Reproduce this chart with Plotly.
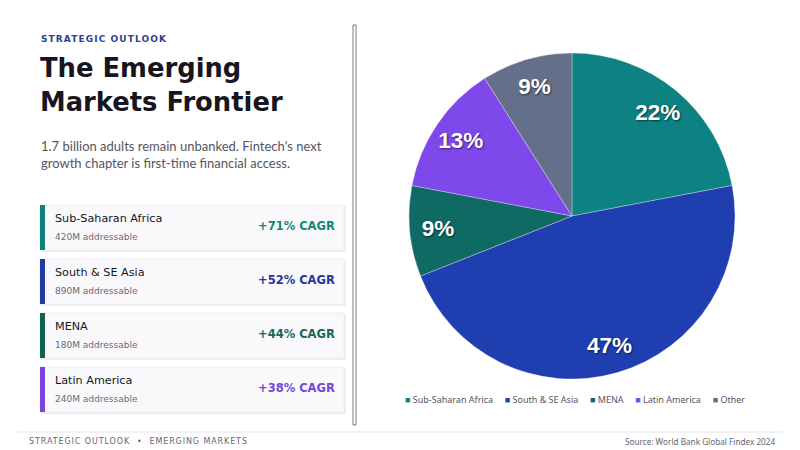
import plotly.graph_objects as go

# data
regions = ["Sub-Saharan Africa", "South & SE Asia", "MENA", "Latin America", "Other"]
share = [22, 47, 9, 13, 9]
colors = ["#0e8282", "#1f3eaf", "#0f6a64", "#7e48ea", "#647089"]

card_regions = ["Sub-Saharan Africa", "South & SE Asia", "MENA", "Latin America"]
card_addressable = ["420M addressable", "890M addressable", "180M addressable", "240M addressable"]
card_cagr = ["+71% CAGR", "+52% CAGR", "+44% CAGR", "+38% CAGR"]
card_colors = ["#138777", "#26389a", "#16695a", "#7448d6"]
bar_colors = ["#0e7f78", "#223a9e", "#10604f", "#7a45dc"]

W, H = 800, 450


def px(x):
    return x / W


def py(y):
    return 1 - y / H


pie_domain = dict(x=[px(409), px(735)], y=[py(379), py(53)])

fig = go.Figure()

# the coloured slices
fig.add_trace(go.Pie(
    labels=regions, values=share, sort=False, direction="clockwise", rotation=0,
    marker=dict(colors=colors, line=dict(color="rgba(255,255,255,0.5)", width=0.6)),
    textinfo="none", domain=pie_domain,
    hoverinfo="label+percent", showlegend=False,
))
# transparent ring on top, only to push the % labels out toward the rim
fig.add_trace(go.Pie(
    labels=regions, values=share, sort=False, direction="clockwise", rotation=0, hole=0.65,
    marker=dict(colors=["rgba(0,0,0,0)"] * len(regions), line=dict(width=0)),
    textinfo="percent", textposition="inside", insidetextorientation="horizontal",
    textfont=dict(family="Liberation Sans", size=22.5, color="white", weight="bold",
                  shadow="1px 1px 2px rgba(0,0,0,0.55)"),
    domain=pie_domain, hoverinfo="skip", showlegend=False,
))

shapes = []
annotations = []

# header text
annotations.append(dict(x=px(39), y=py(39),
                        text='<span style="letter-spacing:1.1px"><b>STRATEGIC OUTLOOK</b></span>',
                        showarrow=False, xanchor="left", yanchor="middle",
                        font=dict(family="DejaVu Sans", size=9, color="#2f3f8f")))
annotations.append(dict(x=px(38), y=py(85), text="<b>The Emerging<br>Markets Frontier</b>",
                        showarrow=False, xanchor="left", yanchor="middle", align="left",
                        font=dict(family="DejaVu Sans", size=25.8, color="#17161f")))
annotations.append(dict(x=px(39), y=py(154),
                        text="1.7 billion adults remain unbanked. Fintech's next<br>growth chapter is first-time financial access.",
                        showarrow=False, xanchor="left", yanchor="middle", align="left",
                        font=dict(family="Lato", size=13, color="#555560")))

# region cards
for i, name in enumerate(card_regions):
    top = 205 + i * 54
    bot = top + 45
    shapes.append(dict(type="rect", xref="paper", yref="paper", x0=px(41), x1=px(346),
                       y0=py(bot + 2), y1=py(top + 1), line=dict(width=0), fillcolor="#ececf2",
                       layer="below"))
    shapes.append(dict(type="rect", xref="paper", yref="paper", x0=px(40), x1=px(344),
                       y0=py(bot), y1=py(top), line=dict(color="#eeeef3", width=1),
                       fillcolor="#f9f9fc", layer="below"))
    shapes.append(dict(type="rect", xref="paper", yref="paper", x0=px(40), x1=px(45),
                       y0=py(bot), y1=py(top), line=dict(width=0), fillcolor=bar_colors[i]))
    annotations.append(dict(x=px(53), y=py(top + 13), text=name, showarrow=False,
                            xanchor="left", yanchor="middle",
                            font=dict(family="DejaVu Sans", size=11.2, color="#15151c")))
    annotations.append(dict(x=px(53), y=py(top + 32), text=card_addressable[i], showarrow=False,
                            xanchor="left", yanchor="middle",
                            font=dict(family="DejaVu Sans", size=9, color="#6a6a72")))
    annotations.append(dict(x=px(337), y=py(top + 21), text="<b>" + card_cagr[i] + "</b>",
                            showarrow=False, xanchor="right", yanchor="middle",
                            font=dict(family="DejaVu Sans", size=11.5, color=card_colors[i])))

# legend built from the pie data
legend_items = []
for name, c in zip(regions, colors):
    legend_items.append('<span style="color:%s;font-size:9px">■</span>\u00a0%s' % (c, name))
gap = "\u00a0" * 5
annotations.append(dict(x=px(575), y=py(399), text=gap.join(legend_items),
                        showarrow=False, xanchor="center", yanchor="middle",
                        font=dict(family="Noto Sans", size=9, color="#555560")))

# divider
shapes.append(dict(type="rect", xref="paper", yref="paper", x0=px(353), x1=px(356),
                   y0=py(425), y1=py(25), line=dict(color="#7a7a7a", width=1), fillcolor="#ffffff"))

# footer
shapes.append(dict(type="line", xref="paper", yref="paper", x0=px(18), x1=px(782),
                   y0=py(432), y1=py(432), line=dict(color="#e6e6ea", width=1)))
annotations.append(dict(x=px(27), y=py(441),
                        text='<span style="letter-spacing:0.9px">STRATEGIC OUTLOOK  •  EMERGING MARKETS</span>',
                        showarrow=False, xanchor="left", yanchor="middle",
                        font=dict(family="DejaVu Sans", size=8, color="#66666e")))
annotations.append(dict(x=px(777), y=py(441), text="Source: World Bank Global Findex 2024",
                        showarrow=False, xanchor="right", yanchor="middle",
                        font=dict(family="Noto Sans", size=8.2, color="#66666e")))

fig.update_layout(
    width=W, height=H,
    margin=dict(l=0, r=0, t=0, b=0),
    paper_bgcolor="white", plot_bgcolor="white",
    shapes=shapes, annotations=annotations,
    showlegend=False,
)

fig.write_html("out.html", config={"displayModeBar": False},
               post_script="document.body.style.margin='0';")
